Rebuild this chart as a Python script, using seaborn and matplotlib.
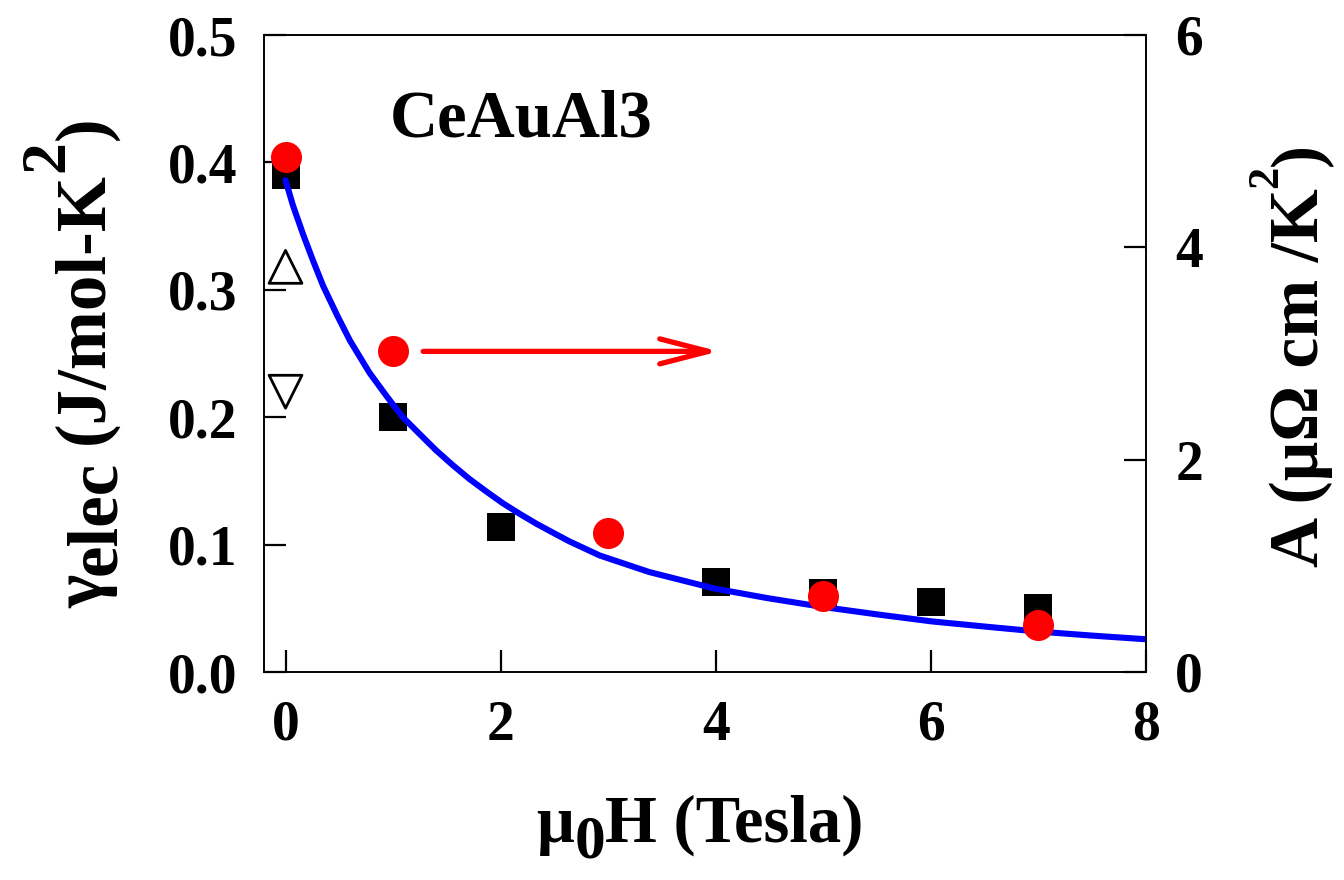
import numpy as np
import pandas as pd
import seaborn as sns
import matplotlib
matplotlib.use("Agg")
import matplotlib.pyplot as plt
from matplotlib.transforms import IdentityTransform

# ---------------- data ----------------
H_gamma = [0, 1, 2, 4, 5, 6, 7]
gamma_elec = [0.390, 0.200, 0.114, 0.0709, 0.0617, 0.0552, 0.0505]

H_up = [0]
gamma_up = [0.318]
H_down = [0]
gamma_down = [0.220]

H_A = [0, 1, 3, 5, 7]
A_coef = [4.85, 3.02, 1.31, 0.716, 0.443]

H_fit = [0.0, 0.07, 0.17, 0.26, 0.35, 0.48, 0.60, 0.78, 0.94, 1.09, 1.25, 1.40,
         1.56, 1.71, 1.87, 2.02, 2.18, 2.33, 2.49, 2.64, 2.92, 3.38, 3.99, 4.48,
         5.00, 5.52, 6.01, 6.51, 6.99, 7.51, 8.0]
gamma_fit = [0.386, 0.366, 0.342, 0.322, 0.303, 0.280, 0.260, 0.235, 0.2165, 0.200,
             0.1865, 0.174, 0.162, 0.1515, 0.1415, 0.1325, 0.124, 0.1165, 0.1092,
             0.1025, 0.0915, 0.0785, 0.0655, 0.058, 0.051, 0.045, 0.0397, 0.0356,
             0.0318, 0.0285, 0.0257]

x_ticks = [0, 2, 4, 6, 8]
left_ticks = [0.0, 0.1, 0.2, 0.3, 0.4, 0.5]
left_ticklabels = ["0.0", "0.1", "0.2", "0.3", "0.4", "0.5"]
right_ticks = [0, 2, 4, 6]
right_ticklabels = ["0", "2", "4", "6"]

compound = "CeAuAl3"

# ---------------- style ----------------
sns.set_theme(style="ticks")
plt.rcParams["font.family"] = ["Liberation Serif", "DejaVu Serif"]
plt.rcParams["font.weight"] = "bold"
plt.rcParams["text.color"] = "black"
plt.rcParams["axes.edgecolor"] = "black"
plt.rcParams["axes.labelcolor"] = "black"
plt.rcParams["xtick.color"] = "black"
plt.rcParams["ytick.color"] = "black"

W, Hpx = 1344, 880
fig = plt.figure(figsize=(W / 100, Hpx / 100), dpi=100)
ax = fig.add_axes([264 / W, 208 / Hpx, 882 / W, 637 / Hpx])

df_sq = pd.DataFrame({"H": H_gamma, "g": gamma_elec})
df_fit = pd.DataFrame({"H": H_fit, "g": gamma_fit})
df_A = pd.DataFrame({"H": H_A, "A": A_coef})

sns.scatterplot(data=df_sq, x="H", y="g", marker="s", s=380, color="black",
                linewidth=0, ax=ax, zorder=2)
sns.scatterplot(x=H_up, y=gamma_up, marker="^", s=560, facecolor="none",
                edgecolor="black", linewidth=2.0, ax=ax, zorder=2)
sns.scatterplot(x=H_down, y=gamma_down, marker="v", s=560, facecolor="none",
                edgecolor="black", linewidth=2.0, ax=ax, zorder=2)
sns.lineplot(data=df_fit, x="H", y="g", color="#0000ff", linewidth=4.4,
             ax=ax, zorder=3, sort=False)
fit_line = ax.lines[-1]
fit_line.set_linewidth(4.4)
fit_line.set_solid_capstyle("round")
fit_line.set_solid_joinstyle("round")

ax.set_xlim(-0.2, 8.0)
ax.set_ylim(0, 0.5)
ax.set_xticks(x_ticks)
ax.set_xticklabels([str(t) for t in x_ticks])
ax.set_yticks(left_ticks)
ax.set_yticklabels(left_ticklabels)
ax.set_xlabel("")
ax.set_ylabel("")
ax.tick_params(axis="x", direction="in", length=16, width=1.6, labelsize=40,
               pad=20, top=False, bottom=True)
ax.tick_params(axis="y", direction="in", length=16, width=1.6, labelsize=40,
               pad=19, left=True, right=False)
for sp in ax.spines.values():
    sp.set_linewidth(1.2)
    sp.set_color("black")

ax.text(0.97, 0.42, compound, fontsize=48, fontweight="bold", va="baseline",
        ha="left", color="black")

ax2 = ax.twinx()
sns.scatterplot(data=df_A, x="H", y="A", marker="o", s=500, color="#ff0000",
                linewidth=0, ax=ax2, zorder=4)
ax2.set_ylim(0, 6)
ax2.set_yticks(right_ticks)
ax2.set_yticklabels(right_ticklabels)
ax2.set_ylabel("")
ax2.tick_params(axis="y", direction="in", length=16, width=1.6, labelsize=40,
                pad=21, right=True, left=False)
for sp in ax2.spines.values():
    sp.set_linewidth(1.2)
    sp.set_color("black")

ax2.annotate("", xy=(4.03, 3.02), xytext=(1.28, 3.02),
             arrowprops=dict(arrowstyle="->,head_length=3.5,head_width=0.9",
                             color="#ff0000", lw=3.8, shrinkA=0, shrinkB=0,
                             mutation_scale=10, capstyle="round",
                             joinstyle="round"))


# ---------------- composite axis labels ----------------
def composite_label(pieces, anchor, center, rotation, fs):
    trans = IdentityTransform()
    objs = []
    for s, shift, scale, gap in pieces:
        t = fig.text(0, 0, s, rotation=rotation, rotation_mode="anchor",
                     ha="left", va="baseline", fontsize=fs * scale,
                     fontweight="bold", color="black", transform=trans)
        objs.append((t, shift, gap))
    fig.canvas.draw()
    r = fig.canvas.get_renderer()
    lens = []
    for t, _, gap in objs:
        bb = t.get_window_extent(r)
        lens.append((bb.height if rotation == 90 else bb.width) + gap)
    pos = center - sum(lens) / 2
    for (t, shift, gap), L in zip(objs, lens):
        if rotation == 90:
            t.set_position((anchor + shift, pos))
        else:
            t.set_position((pos, anchor - shift))
        pos += L


composite_label([("γ", 0, 1, 0), ("elec", 12, 1, 17), ("(J/mol-K", 0, 1, 0),
                 ("2", -40, 0.9, 0), (")", 0, 1, 0)],
                anchor=103, center=Hpx - 362, rotation=90, fs=51)
composite_label([("A (μΩ cm /K", 0, 1, 0), ("2", -41, 0.64, 0), (")", 0, 1, 0)],
                anchor=1318, center=Hpx - 355, rotation=90, fs=50)
composite_label([("μ", 0, 1, 0), ("0", 15, 0.92, 0), ("H (Tesla)", 0, 1, 0)],
                anchor=Hpx - 842, center=700, rotation=0, fs=48)

fig.savefig("out.png", dpi=100)
